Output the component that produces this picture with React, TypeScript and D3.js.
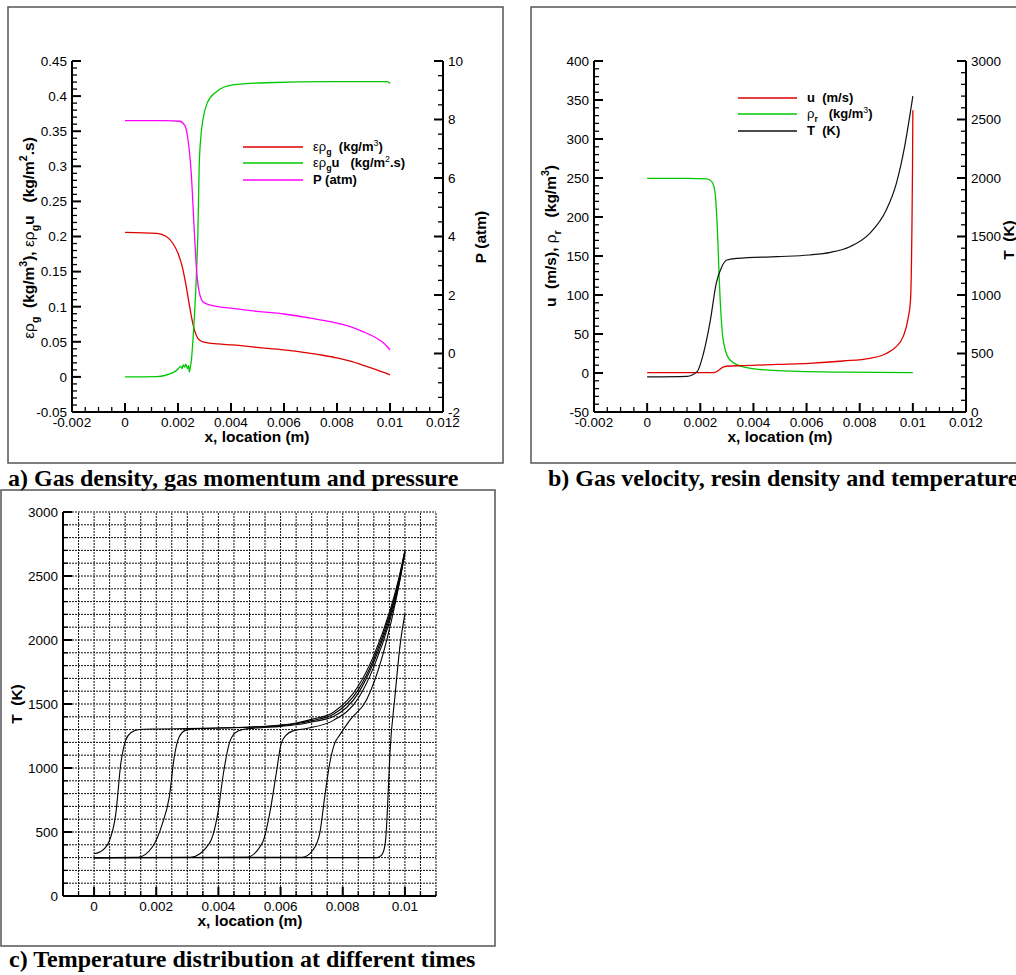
import React from 'react';
import * as d3 from 'd3';

// ---------- tick labels ----------
const X_TICKS_AB = [-0.002, 0, 0.002, 0.004, 0.006, 0.008, 0.01, 0.012];
const A_LEFT_TICKS = [-0.05, 0, 0.05, 0.1, 0.15, 0.2, 0.25, 0.3, 0.35, 0.4, 0.45];
const A_RIGHT_TICKS = [-2, 0, 2, 4, 6, 8, 10];
const B_LEFT_TICKS = [-50, 0, 50, 100, 150, 200, 250, 300, 350, 400];
const B_RIGHT_TICKS = [0, 500, 1000, 1500, 2000, 2500, 3000];
const C_X_TICKS = [0, 0.002, 0.004, 0.006, 0.008, 0.01];
const C_Y_TICKS = [0, 500, 1000, 1500, 2000, 2500, 3000];

// ---------- panel a data ----------
const aGasDensity: [number, number][] = [
  [0, 0.206], [0.0012, 0.2045], [0.00156, 0.2], [0.00181, 0.19], [0.002, 0.176], [0.00216, 0.157],
  [0.00231, 0.129], [0.00244, 0.1], [0.00256, 0.076], [0.00275, 0.055], [0.00294, 0.05], [0.0035, 0.047],
  [0.00406, 0.0455], [0.005, 0.042], [0.006, 0.0385], [0.007, 0.0335], [0.0075, 0.0305], [0.008, 0.027],
  [0.0085, 0.0225], [0.009, 0.0165], [0.0095, 0.01], [0.01, 0.003],
];
const aGasMomentum: [number, number][] = [
  [0, 0], [0.0012, 0.0005], [0.0015, 0.002], [0.0018, 0.006], [0.002, 0.011], [0.0021, 0.015],
  [0.00215, 0.012], [0.0022, 0.017], [0.00225, 0.014], [0.0023, 0.018], [0.00235, 0.012], [0.0024, 0.016],
  [0.00243, 0.007], [0.00247, 0.015], [0.0025, 0.022], [0.00256, 0.05], [0.00262, 0.086], [0.0027, 0.15],
  [0.00275, 0.205], [0.0028, 0.3], [0.00287, 0.345], [0.00294, 0.366], [0.0031, 0.39], [0.00344, 0.406],
  [0.00406, 0.416], [0.0053, 0.419], [0.0078, 0.4205], [0.0099, 0.4205], [0.01, 0.418],
];
const aPressure: [number, number][] = [
  [0, 7.96], [0.0015, 7.96], [0.00206, 7.94], [0.00225, 7.81], [0.00238, 7.3], [0.0025, 6.16],
  [0.00262, 4.1], [0.00272, 2.63], [0.00281, 2.06], [0.00294, 1.77], [0.00319, 1.66], [0.00406, 1.54],
  [0.005, 1.44], [0.006, 1.35], [0.007, 1.21], [0.0078, 1.08], [0.0085, 0.92], [0.009, 0.74],
  [0.0095, 0.52], [0.0097, 0.4], [0.0099, 0.23], [0.01, 0.12],
];

// ---------- panel b data ----------
const bVelocity: [number, number][] = [
  [0, 0.4], [0.0025, 0.5], [0.00262, 1.7], [0.00288, 8], [0.00312, 9], [0.00362, 9.4], [0.0049, 11],
  [0.0061, 12.4], [0.00737, 15.4], [0.00838, 18.8], [0.009, 25], [0.009375, 33.8], [0.009625, 46],
  [0.00981, 68], [0.0099125, 94], [0.0099625, 179], [0.0099875, 264], [0.01, 337],
];
const bResinDensity: [number, number][] = [
  [0, 249.6], [0.0015, 249.6], [0.00225, 249], [0.00244, 245], [0.00256, 230], [0.00265, 179],
  [0.00272, 115], [0.00281, 59], [0.00294, 29.5], [0.00312, 16.7], [0.00362, 8], [0.0049, 3],
  [0.0074, 1], [0.01, 0.5],
];
const bTemperature: [number, number][] = [
  [0, 300], [0.0015, 305], [0.00188, 345], [0.00212, 502], [0.00238, 786], [0.0026, 1100],
  [0.00281, 1242], [0.003, 1299], [0.00338, 1313], [0.0049, 1328], [0.0061, 1342], [0.0069, 1365],
  [0.00763, 1413], [0.00838, 1527], [0.009, 1726], [0.00938, 1954], [0.00969, 2268], [0.00988, 2524],
  [0.01, 2700],
];

// ---------- panel c data (temperature at different times) ----------
const cTime1: [number, number][] = [
  [0, 330], [0.0002, 345], [0.00048, 424], [0.0007, 645], [0.00086, 1035], [0.00102, 1218], [0.00118, 1275],
  [0.00145, 1301], [0.002, 1305], [0.003, 1308], [0.004, 1312], [0.005, 1320], [0.006, 1336], [0.0065, 1352],
  [0.007, 1380], [0.0077, 1436], [0.0085, 1640], [0.009, 1880], [0.0095, 2215], [0.0098, 2480], [0.01, 2700],
];
const cTime2: [number, number][] = [
  [0, 300], [0.0014, 302], [0.00188, 385], [0.0022, 567], [0.00242, 775], [0.00258, 1088], [0.00274, 1244],
  [0.00296, 1296], [0.00339, 1309], [0.004, 1312], [0.005, 1318], [0.006, 1331], [0.0065, 1346], [0.007, 1370],
  [0.0077, 1420], [0.0085, 1612], [0.009, 1852], [0.0095, 2190], [0.0098, 2460], [0.01, 2695],
];
const cTime3: [number, number][] = [
  [0, 300], [0.0031, 302], [0.00371, 411], [0.00398, 645], [0.00416, 957], [0.00435, 1192], [0.00452, 1270],
  [0.00478, 1301], [0.0052, 1312], [0.006, 1325], [0.0065, 1338], [0.007, 1360], [0.0077, 1402],
  [0.0085, 1585], [0.009, 1828], [0.0095, 2168], [0.0098, 2445], [0.01, 2690],
];
const cTime4: [number, number][] = [
  [0, 300], [0.0049, 302], [0.00543, 424], [0.00565, 645], [0.00586, 957], [0.00602, 1192], [0.00618, 1257],
  [0.0064, 1290], [0.00683, 1309], [0.0077, 1372], [0.0085, 1545], [0.009, 1790], [0.0095, 2140],
  [0.0098, 2425], [0.01, 2685],
];
const cTime5: [number, number][] = [
  [0, 300], [0.0067, 302], [0.00704, 359], [0.00726, 489], [0.00742, 775], [0.00758, 1035], [0.00774, 1192],
  [0.0079, 1257], [0.00823, 1374], [0.00876, 1530], [0.0093, 1894], [0.00984, 2467], [0.01, 2675],
];
const cTime6: [number, number][] = [
  [0, 300], [0.0091, 300], [0.00925, 320], [0.00935, 385], [0.0094, 505], [0.00946, 800], [0.00952, 1120],
  [0.00968, 1560], [0.00984, 1950], [0.01, 2206],
];
const cSeries = [cTime1, cTime2, cTime3, cTime4, cTime5, cTime6];

// ---------- styles ----------
const SANS = '"Liberation Sans", Arial, Helvetica, sans-serif';
const SERIF = '"Liberation Serif", "Times New Roman", serif';
const RED = '#e00000';
const GREEN = '#00c800';
const MAGENTA = '#ff00ff';
const TICK_FS = 13.5;
const MAJOR = 9;
const MINOR = 5;

type Seg = { t: string; n?: boolean; s?: 'sub' | 'sup' };

function Rich({ x, y, segs, size, anchor = 'start', rotate = 0 }: {
  x: number; y: number; segs: Seg[]; size: number; anchor?: string; rotate?: number;
}) {
  let cur = 0;
  const kids = segs.map((sg, i) => {
    const target = sg.s === 'sub' ? size * 0.32 : sg.s === 'sup' ? -size * 0.42 : 0;
    const dy = target - cur;
    cur = target;
    return (
      <tspan key={i} dy={dy !== 0 ? dy : undefined} fontWeight={sg.n ? 'normal' : 'bold'}
        fontSize={sg.s ? size * 0.68 : size}>{sg.t}</tspan>
    );
  });
  return (
    <text x={x} y={y} textAnchor={anchor as any} fontFamily={SANS} fontSize={size}
      style={{ whiteSpace: 'pre' }} fill="#000"
      transform={rotate ? `rotate(${rotate} ${x} ${y})` : undefined}>{kids}</text>
  );
}

const fmt = (v: number) => String(+v.toFixed(6));

function minorTicks(major: number[], n: number) {
  const out: number[] = [];
  for (let i = 0; i < major.length - 1; i++) {
    const step = (major[i + 1] - major[i]) / n;
    for (let k = 1; k < n; k++) out.push(major[i] + k * step);
  }
  return out;
}

function VAxis({ x0, scale, major, minorN, side, label = true }: {
  x0: number; scale: d3.ScaleLinear<number, number>; major: number[]; minorN: number; side: 'left' | 'right'; label?: boolean;
}) {
  const dir = side === 'left' ? 1 : -1;
  const [r0, r1] = scale.range();
  return (
    <g>
      <line x1={x0} x2={x0} y1={r0} y2={r1} stroke="#000" strokeWidth={2} />
      {major.map((v) => (
        <line key={'M' + v} x1={x0} x2={x0 + dir * MAJOR} y1={scale(v)} y2={scale(v)} stroke="#000" strokeWidth={2} />
      ))}
      {minorTicks(major, minorN).map((v, i) => (
        <line key={'m' + i} x1={x0} x2={x0 + dir * MINOR} y1={scale(v)} y2={scale(v)} stroke="#000" strokeWidth={1.3} />
      ))}
      {label && major.map((v) => (
        <text key={'L' + v} x={side === 'left' ? x0 - 5 : x0 + 5} y={scale(v)} dy="0.36em"
          textAnchor={side === 'left' ? 'end' : 'start'} fontFamily={SANS} fontSize={TICK_FS}>{fmt(v)}</text>
      ))}
    </g>
  );
}

function HAxis({ y0, scale, major, minorN, labels, x1, x2 }: {
  y0: number; scale: d3.ScaleLinear<number, number>; major: number[]; minorN: number; labels: number[]; x1: number; x2: number;
}) {
  return (
    <g>
      <line x1={x1} x2={x2} y1={y0} y2={y0} stroke="#000" strokeWidth={2} />
      {major.map((v) => (
        <line key={'M' + v} x1={scale(v)} x2={scale(v)} y1={y0} y2={y0 - MAJOR} stroke="#000" strokeWidth={2} />
      ))}
      {minorTicks(major, minorN).map((v, i) => (
        <line key={'m' + i} x1={scale(v)} x2={scale(v)} y1={y0} y2={y0 - MINOR} stroke="#000" strokeWidth={1.3} />
      ))}
      {labels.map((v) => (
        <text key={'L' + v} x={scale(v)} y={y0 + 15} textAnchor="middle" fontFamily={SANS} fontSize={TICK_FS}>{fmt(v)}</text>
      ))}
    </g>
  );
}

function linePath(data: [number, number][], xs: d3.ScaleLinear<number, number>, ys: d3.ScaleLinear<number, number>) {
  return d3.line<[number, number]>().x((d) => xs(d[0])).y((d) => ys(d[1])).curve(d3.curveMonotoneX)(data) || '';
}

function PanelA() {
  const x = d3.scaleLinear().domain([-0.002, 0.012]).range([72, 443]);
  const yL = d3.scaleLinear().domain([-0.05, 0.45]).range([412, 61]);
  const yR = d3.scaleLinear().domain([-2, 10]).range([412, 61]);
  const legend = [
    { c: RED, y: 147, segs: [{ t: 'ερ', n: true }, { t: 'g', s: 'sub' }, { t: '  (kg/m' }, { t: '3', s: 'sup', n: true }, { t: ')' }] as Seg[] },
    { c: GREEN, y: 163, segs: [{ t: 'ερ', n: true }, { t: 'g', s: 'sub' }, { t: 'u   (kg/m' }, { t: '2', s: 'sup', n: true }, { t: '.s)' }] as Seg[] },
    { c: MAGENTA, y: 180, segs: [{ t: 'P (atm)' }] as Seg[] },
  ];
  return (
    <g>
      <rect x={8} y={7} width={495} height={456} fill="none" stroke="#555" strokeWidth={1.5} />
      <path d={linePath(aGasDensity, x, yL)} fill="none" stroke={RED} strokeWidth={1.3} />
      <path d={linePath(aGasMomentum, x, yL)} fill="none" stroke={GREEN} strokeWidth={1.3} />
      <path d={linePath(aPressure, x, yR)} fill="none" stroke={MAGENTA} strokeWidth={1.3} />
      <VAxis x0={72} scale={yL} major={A_LEFT_TICKS} minorN={5} side="left" />
      <VAxis x0={443} scale={yR} major={A_RIGHT_TICKS} minorN={4} side="right" />
      <HAxis y0={412} scale={x} major={X_TICKS_AB} minorN={4} labels={X_TICKS_AB} x1={72} x2={443} />
      <text x={257} y={442} textAnchor="middle" fontFamily={SANS} fontSize={15.5} fontWeight="bold">x, location (m)</text>
      <Rich x={34} y={238} anchor="middle" rotate={-90} size={15.5}
        segs={[{ t: 'ερ', n: true }, { t: 'g', s: 'sub' }, { t: '  (kg/m' }, { t: '3', s: 'sup' }, { t: '), ' }, { t: 'ερ', n: true }, { t: 'g', s: 'sub' }, { t: 'u   (kg/m' }, { t: '2', s: 'sup' }, { t: '.s)' }]} />
      <Rich x={486} y={237} anchor="middle" rotate={-90} size={15.5} segs={[{ t: 'P (atm)' }]} />
      {legend.map((l, i) => (
        <g key={i}>
          <line x1={243} x2={303} y1={l.y} y2={l.y} stroke={l.c} strokeWidth={1.3} />
          <Rich x={313} y={l.y + 4} size={13} segs={l.segs} />
        </g>
      ))}
    </g>
  );
}

function PanelB() {
  const x = d3.scaleLinear().domain([-0.002, 0.012]).range([594, 966]);
  const yL = d3.scaleLinear().domain([-50, 400]).range([412, 61]);
  const yR = d3.scaleLinear().domain([0, 3000]).range([412, 61]);
  const legend = [
    { c: RED, y: 98, segs: [{ t: 'u  (m/s)' }] as Seg[] },
    { c: GREEN, y: 114, segs: [{ t: 'ρ', n: true }, { t: 'r', s: 'sub' }, { t: '   (kg/m' }, { t: '3', s: 'sup', n: true }, { t: ')' }] as Seg[] },
    { c: '#111', y: 131, segs: [{ t: 'T  (K)' }] as Seg[] },
  ];
  return (
    <g>
      <rect x={531} y={7} width={500} height={456} fill="none" stroke="#555" strokeWidth={1.5} />
      <path d={linePath(bResinDensity, x, yL)} fill="none" stroke={GREEN} strokeWidth={1.3} />
      <path d={linePath(bVelocity, x, yL)} fill="none" stroke={RED} strokeWidth={1.3} />
      <path d={linePath(bTemperature, x, yR)} fill="none" stroke="#111" strokeWidth={1.2} />
      <VAxis x0={594} scale={yL} major={B_LEFT_TICKS} minorN={5} side="left" />
      <VAxis x0={966} scale={yR} major={B_RIGHT_TICKS} minorN={5} side="right" />
      <HAxis y0={412} scale={x} major={X_TICKS_AB} minorN={4} labels={X_TICKS_AB} x1={594} x2={966} />
      <text x={780} y={442} textAnchor="middle" fontFamily={SANS} fontSize={15.5} fontWeight="bold">x, location (m)</text>
      <Rich x={556} y={236} anchor="middle" rotate={-90} size={15.5}
        segs={[{ t: 'u  (m/s), ' }, { t: 'ρ', n: true }, { t: 'r', s: 'sub' }, { t: '   (kg/m' }, { t: '3', s: 'sup' }, { t: ')' }]} />
      <Rich x={1014} y={240} anchor="middle" rotate={-90} size={15.5} segs={[{ t: 'T  (K)' }]} />
      {legend.map((l, i) => (
        <g key={i}>
          <line x1={738} x2={797} y1={l.y} y2={l.y} stroke={l.c} strokeWidth={1.3} />
          <Rich x={807} y={l.y + 4} size={13} segs={l.segs} />
        </g>
      ))}
    </g>
  );
}

function PanelC() {
  const x = d3.scaleLinear().domain([-0.001, 0.011]).range([63, 436]);
  const y = d3.scaleLinear().domain([0, 3000]).range([896, 512]);
  const xGrid = d3.range(0, 25).map((i) => -0.001 + i * 0.0005);
  const yGrid = d3.range(1, 31).map((i) => i * 100);
  return (
    <g>
      <rect x={1} y={490} width={494} height={456} fill="none" stroke="#555" strokeWidth={1.5} />
      {xGrid.slice(1).map((v, i) => (
        <line key={'gx' + i} x1={x(v)} x2={x(v)} y1={896} y2={512} stroke="#111" strokeWidth={1} strokeDasharray="2,1" />
      ))}
      {yGrid.map((v, i) => (
        <line key={'gy' + i} x1={63} x2={436} y1={y(v)} y2={y(v)} stroke="#111" strokeWidth={1} strokeDasharray="2,1" />
      ))}
      {cSeries.map((s, i) => (
        <path key={i} d={linePath(s, x, y)} fill="none" stroke="#000" strokeWidth={1.1} />
      ))}
      <VAxis x0={63} scale={y} major={C_Y_TICKS} minorN={5} side="left" />
      <g>
        <line x1={63} x2={436} y1={896} y2={896} stroke="#000" strokeWidth={2} />
        {C_X_TICKS.map((v) => (
          <line key={'cM' + v} x1={x(v)} x2={x(v)} y1={896} y2={896 - MAJOR} stroke="#000" strokeWidth={2} />
        ))}
        {xGrid.filter((v) => !C_X_TICKS.some((t) => Math.abs(t - v) < 1e-9)).map((v, i) => (
          <line key={'cm' + i} x1={x(v)} x2={x(v)} y1={896} y2={896 - MINOR} stroke="#000" strokeWidth={1.3} />
        ))}
        {C_X_TICKS.map((v) => (
          <text key={'cL' + v} x={x(v)} y={911} textAnchor="middle" fontFamily={SANS} fontSize={TICK_FS}>{fmt(v)}</text>
        ))}
      </g>
      <text x={250} y={926} textAnchor="middle" fontFamily={SANS} fontSize={15.5} fontWeight="bold">x, location (m)</text>
      <Rich x={22} y={704} anchor="middle" rotate={-90} size={15.5} segs={[{ t: 'T  (K)' }]} />
    </g>
  );
}

export default function App() {
  return (
    <svg width={1016} height={975} viewBox="0 0 1016 975"
      style={{ position: 'absolute', left: 0, top: 0, background: '#fff', display: 'block' }}>
      <rect x={0} y={0} width={1016} height={975} fill="#fff" />
      <PanelA />
      <PanelB />
      <PanelC />
      <text x={8} y={486} fontFamily={SERIF} fontSize={24} fontWeight="bold">a) Gas density, gas momentum and pressure</text>
      <text x={548} y={486} fontFamily={SERIF} fontSize={24} fontWeight="bold">b) Gas velocity, resin density and temperature</text>
      <text x={9} y={967} fontFamily={SERIF} fontSize={24} fontWeight="bold">c) Temperature distribution at different times</text>
    </svg>
  );
}
